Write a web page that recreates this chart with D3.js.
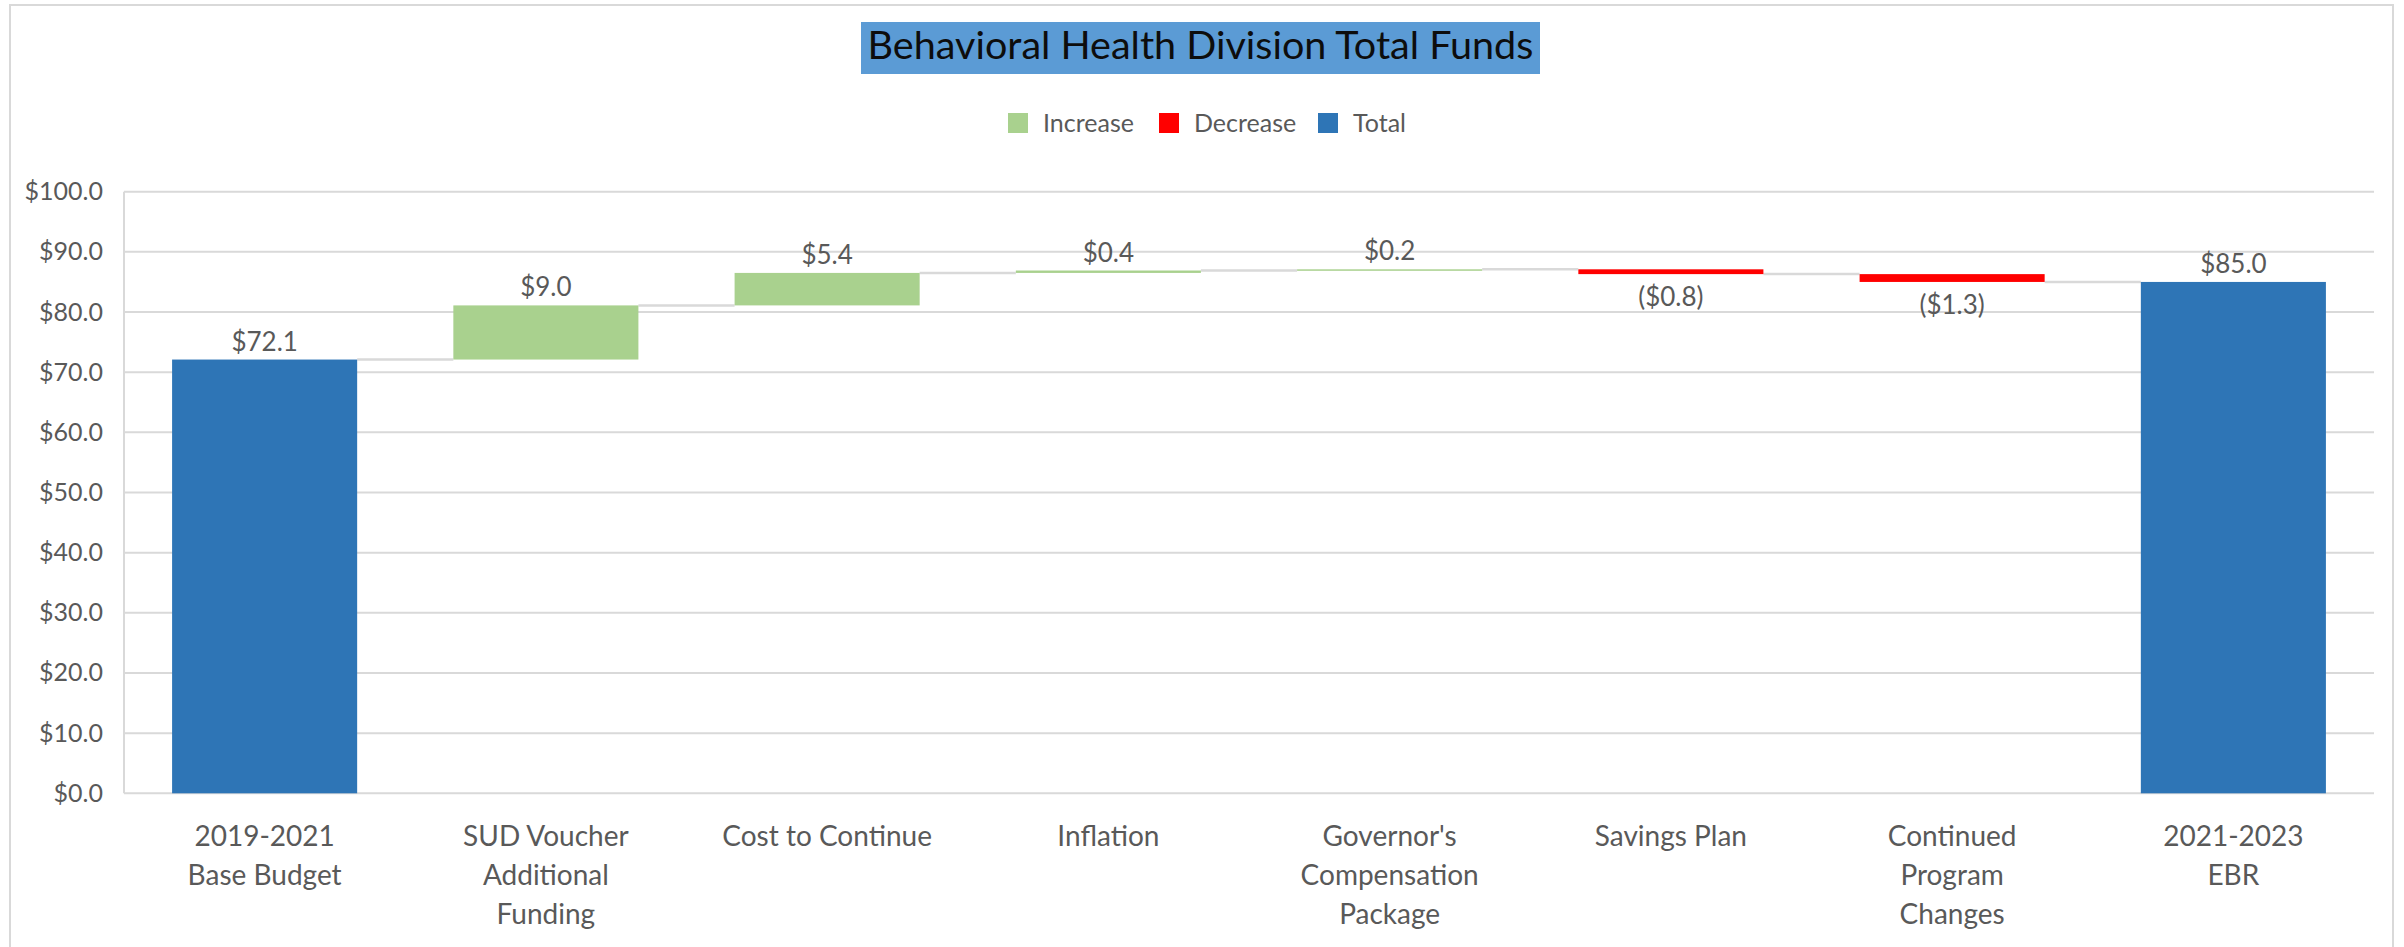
<!DOCTYPE html>
<html>
<head>
<meta charset="utf-8">
<script src="https://cdn.jsdelivr.net/npm/d3@7"></script>
<style>
  html, body { margin: 0; padding: 0; background: #ffffff; }
  svg { display: block; }
  text { font-family: Lato, "Open Sans", sans-serif; }
</style>
</head>
<body>
<svg id="chart" width="2404" height="947"></svg>
<script>
// ---- Data ----
const categories = ["base", "sud", "ctc", "infl", "gov", "save", "cont", "ebr"];
const categoryLabels = [
  ["2019-2021", "Base Budget"],
  ["SUD Voucher", "Additional", "Funding"],
  ["Cost to Continue"],
  ["Inflation"],
  ["Governor's", "Compensation", "Package"],
  ["Savings Plan"],
  ["Continued", "Program", "Changes"],
  ["2021-2023", "EBR"]
];
const values = [72.1, 9.0, 5.4, 0.4, 0.2, -0.8, -1.3, 85.0];
const kinds = ["total", "increase", "increase", "increase", "increase", "decrease", "decrease", "total"];
const yTicks = [0, 10, 20, 30, 40, 50, 60, 70, 80, 90, 100];
const legendLabels = ["Increase", "Decrease", "Total"];
const legendKinds = ["increase", "decrease", "total"];
const title = "Behavioral Health Division Total Funds";

// ---- Styles ----
const colors = { increase: "#a9d18e", decrease: "#ff0000", total: "#2e75b6" };
const textColor = "#595959";
const gridColor = "#d9d9d9";

const svg = d3.select("#chart");
const plot = { left: 124, right: 2374, top: 191.7, bottom: 793.3 };

const x = d3.scaleBand().domain(categories)
  .range([plot.left, plot.right]).paddingInner(0.342).paddingOuter(0.171);
const y = d3.scaleLinear().domain([0, 100]).range([plot.bottom, plot.top]);

// compute waterfall segments
let running = 0;
const segs = categories.map((c, i) => {
  let start, end;
  if (kinds[i] === "total") { start = 0; end = values[i]; running = values[i]; }
  else { start = running; end = running + values[i]; running = end; }
  return { c, i, v: values[i], kind: kinds[i], start, end };
});

// outer border
svg.append("rect").attr("x", 10).attr("y", 5).attr("width", 2383).attr("height", 960)
  .attr("fill", "none").attr("stroke", gridColor).attr("stroke-width", 2);

// gridlines
svg.append("g").selectAll("line").data(yTicks).join("line")
  .attr("x1", plot.left).attr("x2", plot.right)
  .attr("y1", d => y(d)).attr("y2", d => y(d))
  .attr("stroke", gridColor).attr("stroke-width", 2);
// vertical axis line
svg.append("line").attr("x1", plot.left).attr("x2", plot.left)
  .attr("y1", y(100)).attr("y2", y(0)).attr("stroke", gridColor).attr("stroke-width", 2);

// y axis labels
const yAxis = d3.axisLeft(y).tickValues(yTicks).tickSize(0).tickPadding(21)
  .tickFormat(d => "$" + d.toFixed(1));
const yg = svg.append("g").attr("transform", `translate(${plot.left},0)`).call(yAxis);
yg.select(".domain").remove();
yg.selectAll("text").attr("font-family", "Lato, sans-serif").attr("font-size", 25)
  .attr("fill", textColor);

// connectors
svg.append("g").selectAll("line").data(segs.slice(0, -1)).join("line")
  .attr("x1", d => x(d.c) + x.bandwidth())
  .attr("x2", d => x(categories[d.i + 1]))
  .attr("y1", d => y(d.end)).attr("y2", d => y(d.end))
  .attr("stroke", gridColor).attr("stroke-width", 2.5);

// bars
svg.append("g").selectAll("rect").data(segs).join("rect")
  .attr("x", d => x(d.c)).attr("width", x.bandwidth())
  .attr("y", d => y(Math.max(d.start, d.end)))
  .attr("height", d => Math.max(1.5, Math.abs(y(d.start) - y(d.end))))
  .attr("fill", d => colors[d.kind]);

// data labels
const fmt = v => v < 0 ? "($" + Math.abs(v).toFixed(1) + ")" : "$" + v.toFixed(1);
svg.append("g").selectAll("text").data(segs).join("text")
  .attr("x", d => x(d.c) + x.bandwidth() / 2)
  .attr("y", d => d.kind === "decrease"
      ? y(Math.min(d.start, d.end)) + 32
      : y(Math.max(d.start, d.end)) - 9)
  .attr("text-anchor", "middle").attr("font-size", 26).attr("fill", textColor)
  .text(d => fmt(d.v));

// category labels
const xg = svg.append("g");
categories.forEach((c, i) => {
  const t = xg.append("text").attr("text-anchor", "middle")
    .attr("font-size", 28).attr("fill", textColor)
    .attr("x", x(c) + x.bandwidth() / 2).attr("y", 846);
  categoryLabels[i].forEach((line, j) => {
    t.append("tspan").attr("x", x(c) + x.bandwidth() / 2).attr("y", 846 + j * 39).text(line);
  });
});

// title
svg.append("rect").attr("x", 861).attr("y", 22).attr("width", 679).attr("height", 52)
  .attr("fill", "#5b9bd5");
const tt = svg.append("text").attr("x", 1200.5).attr("y", 59).attr("text-anchor", "middle")
  .attr("font-size", 32).attr("fill", "#0d0d0d").text(title);
const w = tt.node().getComputedTextLength();
tt.attr("font-size", 32 * 666 / w);

// legend
const legendX = [1008, 1159, 1318];
const lg = svg.append("g");
legendKinds.forEach((k, i) => {
  lg.append("rect").attr("x", legendX[i]).attr("y", 113).attr("width", 20).attr("height", 20)
    .attr("fill", colors[k]);
  lg.append("text").attr("x", legendX[i] + 35).attr("y", 132)
    .attr("font-size", 25).attr("fill", textColor).text(legendLabels[i]);
});
</script>
</body>
</html>
